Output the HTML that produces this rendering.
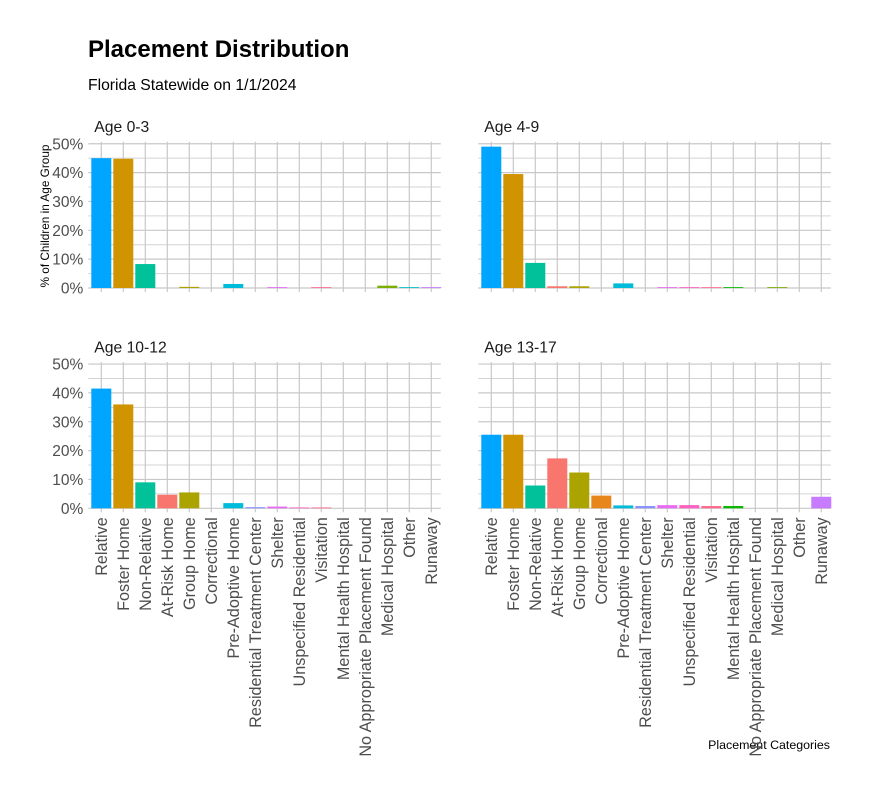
<!DOCTYPE html>
<html><head><meta charset="utf-8"><style>
body{margin:0;background:#fff;}
svg{display:block;font-family:"Liberation Sans",Arial,sans-serif;}
</style></head><body>
<svg id="chart" width="869" height="788" xmlns="http://www.w3.org/2000/svg">
<text x="88" y="57" font-size="24" font-weight="bold" fill="#000">Placement Distribution</text>
<text x="88" y="90" font-size="15.7" fill="#000">Florida Statewide on 1/1/2024</text>
<text transform="translate(49,216) rotate(-90)" text-anchor="middle" font-size="11.8" fill="#000">% of Children in Age Group</text>
<text x="830" y="749" text-anchor="end" font-size="12.4" fill="#000">Placement Categories</text>
<g id="panels"></g>
</svg>
<script>
const categories = ["Relative","Foster Home","Non-Relative","At-Risk Home","Group Home","Correctional","Pre-Adoptive Home","Residential Treatment Center","Shelter","Unspecified Residential","Visitation","Mental Health Hospital","No Appropriate Placement Found","Medical Hospital","Other","Runaway"];
const colors = ["#00A5FF","#CF9400","#00C19A","#F8766D","#ABA300","#E7861B","#00BBDA","#8B93FF","#E76BF3","#FF61C3","#FF6C91","#0CB702","#00BF7D","#7CAE00","#00BFC4","#C77CFF"];
const panelLabels = ["Age 0-3","Age 4-9","Age 10-12","Age 13-17"];
const age0to3 = [45,44.8,8.3,0,0.4,0,1.4,0,0.3,0,0.3,0,0,0.8,0.3,0.3];
const age4to9 = [49,39.5,8.7,0.6,0.6,0,1.6,0,0.3,0.3,0.3,0.3,0,0.3,0,0];
const age10to12 = [41.5,36,9,4.7,5.5,0,1.8,0.4,0.6,0.3,0.3,0,0,0,0,0];
const age13to17 = [25.5,25.5,7.9,17.3,12.4,4.4,1.0,0.8,1.1,1.1,0.8,0.8,0,0,0,4.0];
const yTicks = [0,10,20,30,40,50];
const yTickLabels = ["0%","10%","20%","30%","40%","50%"];

const NS="http://www.w3.org/2000/svg";
const root=document.getElementById('panels');
function mk(tag,attrs,parent){const e=document.createElementNS(NS,tag);for(const k in attrs)e.setAttribute(k,attrs[k]);parent.appendChild(e);return e;}
const layout=[{x0:88.3,y0:288,lbl:true,xl:false},{x0:478.3,y0:288,lbl:false,xl:false},{x0:88.3,y0:508.3,lbl:true,xl:true},{x0:478.3,y0:508.3,lbl:false,xl:true}];
const allData=[age0to3,age4to9,age10to12,age13to17];
const step=22, pad=13, W=352.5, pxPerPct=2.885;
layout.forEach((p,pi)=>{
  const g=mk('g',{},root);
  
  
  const xs=i=>p.x0+pad+i*step;
  const ys=v=>p.y0-v*pxPerPct;
  for(let v=5;v<=50;v+=10){const l=mk('line',{x1:p.x0,x2:p.x0+W,y1:ys(v),y2:ys(v),stroke:'#d3d3d3','stroke-width':1},g);}
  yTicks.forEach((v,ti)=>{
    const l=mk('line',{x1:p.x0,x2:p.x0+W,y1:ys(v),y2:ys(v),stroke:'#c8c8c8','stroke-width':1.2},g);
    
    
    if(p.lbl){const t=mk('text',{x:p.x0-5,y:ys(v)+5.5,'text-anchor':'end','font-size':15.5,fill:'#4d4d4d'},g);t.textContent=yTickLabels[ti];
      
      }
  });
  categories.forEach((c,i)=>{
    const l=mk('line',{x1:xs(i),x2:xs(i),y1:ys(50)-2,y2:p.y0+4,stroke:'#c8c8c8','stroke-width':1.2},g);
    
    
  });
  allData[pi].forEach((v,i)=>{
    if(v<=0)return;
    const r=mk('rect',{x:xs(i)-10,y:ys(v),width:20,height:v*pxPerPct,fill:colors[i]},g);
    
    
  });
  const ft=mk('text',{x:p.x0+6,y:p.y0-156,'font-size':15.7,fill:'#1a1a1a'},g);
  ft.textContent=panelLabels[pi];
  
  
  if(p.xl){categories.forEach((c,i)=>{
    const t=mk('text',{transform:`translate(${xs(i)+5.5},${p.y0+9}) rotate(-90)`,'text-anchor':'end','font-size':16.2,fill:'#4d4d4d'},g);
    t.textContent=c;
    
    
  });}
});
</script>
</body></html>
